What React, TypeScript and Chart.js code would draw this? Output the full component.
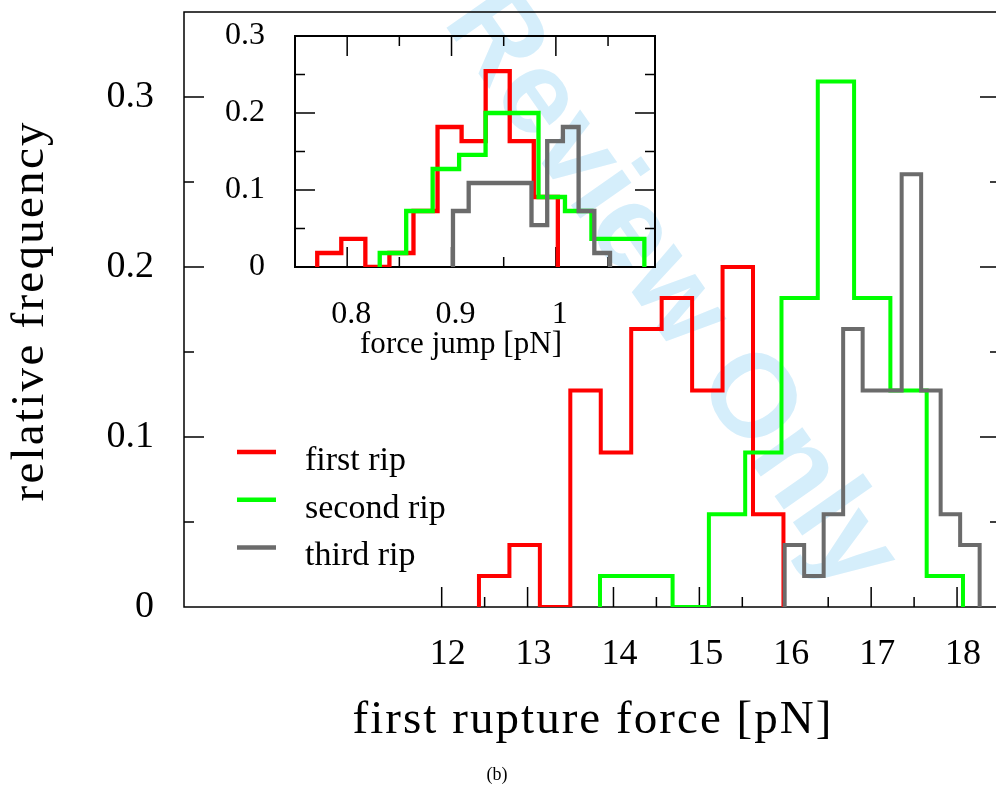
import React, { useEffect, useRef } from 'react';
import { Chart, registerables } from 'chart.js';

Chart.register(...registerables);

const SERIF = "'Liberation Serif', 'Times New Roman', serif";

// ---------- main histogram (first rupture force) ----------
const firstRipStart = 12.434;
const firstRipWidth = 0.3545;
const firstRipFreq = [0.0182, 0.0364, 0, 0.1273, 0.0909, 0.1636, 0.1818, 0.1273, 0.2, 0.0545];

const secondRipStart = 13.843;
const secondRipWidth = 0.4226;
const secondRipFreq = [0.0182, 0.0182, 0, 0.0545, 0.0909, 0.1818, 0.3091, 0.1818, 0.1273, 0.0182];

const thirdRipStart = 15.993;
const thirdRipWidth = 0.227;
const thirdRipFreq = [0.0364, 0.0182, 0.0545, 0.1636, 0.1273, 0.1273, 0.2545, 0.1273, 0.0545, 0.0364];

const mainXTicks = [12, 13, 14, 15, 16, 17, 18];
const mainXTickLabels = ['12', '13', '14', '15', '16', '17', '18'];
const mainXMinor = [12.5, 13.5, 14.5, 15.5, 16.5, 17.5];
const mainYTicks = [0, 0.1, 0.2, 0.3];
const mainYTickLabels = ['0', '0.1', '0.2', '0.3'];
const mainYMinor = [0.05, 0.15, 0.25];

// ---------- inset histogram (force jump) ----------
const firstJumpStart = 0.7713;
const firstJumpWidth = 0.02306;
const firstJumpFreq = [0.0182, 0.0364, 0, 0.0182, 0.0727, 0.1818, 0.1636, 0.2545, 0.1636, 0.0909];

const secondJumpStart = 0.8312;
const secondJumpWidth = 0.02536;
const secondJumpFreq = [0.0182, 0.0727, 0.1273, 0.1455, 0.2, 0.2, 0.0909, 0.0727, 0.0364, 0.0364];

const thirdJumpStart = 0.9014;
const thirdJumpWidth = 0.01505;
const thirdJumpFreq = [0.0727, 0.1091, 0.1091, 0.1091, 0.1091, 0.0545, 0.1636, 0.1818, 0.0727, 0.0182];

const insetXTicks = [0.8, 0.9, 1.0];
const insetXTickLabels = ['0.8', '0.9', '1'];
const insetXMinor = [0.85, 0.95, 1.05];
const insetYTicks = [0, 0.1, 0.2, 0.3];
const insetYTickLabels = ['0', '0.1', '0.2', '0.3'];
const insetYMinor = [0.05, 0.15, 0.25];

const seriesNames = ['first rip', 'second rip', 'third rip'];
const seriesColors = ['#ff0000', '#00ff00', '#6b6b6b'];

function histPoints(start: number, width: number, freq: number[]) {
  const pts: { x: number; y: number }[] = [{ x: start, y: 0 }];
  freq.forEach((f, i) => {
    pts.push({ x: start + i * width, y: f });
    pts.push({ x: start + (i + 1) * width, y: f });
  });
  pts.push({ x: start + freq.length * width, y: 0 });
  return pts;
}

function drawSpaced(ctx: CanvasRenderingContext2D, text: string, cx: number, y: number, target: number) {
  const c: any = ctx;
  c.letterSpacing = '0px';
  const w0 = ctx.measureText(text).width;
  const sp = Math.max(0, (target - w0) / (text.length - 1));
  c.letterSpacing = sp + 'px';
  ctx.textAlign = 'left';
  const total = w0 + sp * (text.length - 1);
  ctx.fillText(text, cx - total / 2, y);
  c.letterSpacing = '0px';
}

function framePlugin(o: {
  frameWidth: number;
  xMajor: number[];
  xMinor: number[];
  yMajor: number[];
  yMinor: number[];
  topTicks: boolean;
  watermark?: boolean;
}) {
  return {
    id: 'frameTicks',
    beforeDatasetsDraw(chart: any) {
      const { ctx, chartArea, scales } = chart;
      const { left, right, top, bottom } = chartArea;
      ctx.save();
      if (o.watermark) {
        ctx.save();
        ctx.translate(670, 290);
        ctx.rotate((55 * Math.PI) / 180);
        ctx.font = "bold 118px 'Liberation Sans', Arial, sans-serif";
        ctx.fillStyle = '#d5eefb';
        ctx.textAlign = 'center';
        ctx.textBaseline = 'middle';
        ctx.fillText('Review Only', 0, 0);
        ctx.restore();
      }
      ctx.strokeStyle = '#000';
      ctx.lineWidth = o.frameWidth;
      ctx.strokeRect(left, top, right - left, bottom - top);
      ctx.lineWidth = 1.5;
      ctx.beginPath();
      const xs = (vals: number[], len: number) =>
        vals.forEach((v) => {
          const p = scales.x.getPixelForValue(v);
          ctx.moveTo(p, bottom);
          ctx.lineTo(p, bottom - len);
          if (o.topTicks) {
            ctx.moveTo(p, top);
            ctx.lineTo(p, top + len);
          }
        });
      const ys = (vals: number[], len: number) =>
        vals.forEach((v) => {
          const p = scales.y.getPixelForValue(v);
          ctx.moveTo(left, p);
          ctx.lineTo(left + len, p);
          ctx.moveTo(right, p);
          ctx.lineTo(right - len, p);
        });
      xs(o.xMajor, 20);
      xs(o.xMinor, 10);
      ys(o.yMajor, 20);
      ys(o.yMinor, 10);
      ctx.stroke();
      ctx.restore();
    },
  };
}

const mainTextPlugin = {
  id: 'mainText',
  afterDraw(chart: any) {
    const { ctx, chartArea } = chart;
    ctx.save();
    ctx.fillStyle = '#000';
    ctx.textBaseline = 'alphabetic';
    // x title
    ctx.font = `47px ${SERIF}`;
    drawSpaced(ctx, 'first rupture force [pN]', (chartArea.left + chartArea.right) / 2, 733, 479);
    // y title
    ctx.save();
    ctx.translate(43, 312);
    ctx.rotate(-Math.PI / 2);
    drawSpaced(ctx, 'relative frequency', 0, 0, 379);
    ctx.restore();
    // legend
    ctx.font = `34px ${SERIF}`;
    ctx.textAlign = 'left';
    seriesNames.forEach((name, i) => {
      const ly = 452 + i * 47.7;
      ctx.strokeStyle = seriesColors[i];
      ctx.lineWidth = 4.5;
      ctx.beginPath();
      ctx.moveTo(237, ly);
      ctx.lineTo(276, ly);
      ctx.stroke();
      ctx.fillText(name, 305, ly + 18);
    });
    // sub-figure tag
    ctx.font = `18px ${SERIF}`;
    ctx.textAlign = 'center';
    ctx.fillText('(b)', 497, 780);
    ctx.restore();
  },
};

const insetTextPlugin = {
  id: 'insetText',
  afterDraw(chart: any) {
    const { ctx } = chart;
    ctx.save();
    ctx.fillStyle = '#000';
    ctx.textBaseline = 'alphabetic';
    ctx.font = `31px ${SERIF}`;
    drawSpaced(ctx, 'force jump [pN]', 261, 343, 202);
    ctx.restore();
  },
};

function makeDatasets(starts: number[], widths: number[], freqs: number[][], lw: number) {
  return freqs.map((f, i) => ({
    label: seriesNames[i],
    data: histPoints(starts[i], widths[i], f),
    borderColor: seriesColors[i],
    backgroundColor: seriesColors[i],
    borderWidth: lw,
    pointRadius: 0,
    fill: false,
    tension: 0,
    borderJoinStyle: 'miter' as const,
    order: 3 - i,
  }));
}

const noPadX = (h: number) => (s: any) => {
  s.height = h;
  s.paddingLeft = 0;
  s.paddingRight = 0;
  s.paddingTop = 0;
  s.paddingBottom = 0;
};
const noPadY = (w: number) => (s: any) => {
  s.width = w;
  s.paddingLeft = 0;
  s.paddingRight = 0;
  s.paddingTop = 0;
  s.paddingBottom = 0;
};

export default function App() {
  const mainRef = useRef<HTMLCanvasElement>(null);
  const insetRef = useRef<HTMLCanvasElement>(null);

  useEffect(() => {
    const main = new Chart(mainRef.current as HTMLCanvasElement, {
      type: 'line',
      data: {
        datasets: makeDatasets(
          [firstRipStart, secondRipStart, thirdRipStart],
          [firstRipWidth, secondRipWidth, thirdRipWidth],
          [firstRipFreq, secondRipFreq, thirdRipFreq],
          4
        ) as any,
      },
      options: {
        responsive: false,
        devicePixelRatio: 1,
        animation: false,
        events: [],
        layout: { padding: { top: 12, right: 4, left: 0, bottom: 0 } },
        plugins: { legend: { display: false }, tooltip: { enabled: false } },
        scales: {
          x: {
            type: 'linear',
            min: 9,
            max: 18.5,
            grid: { display: false, drawTicks: false },
            border: { display: false },
            ticks: {
              autoSkip: false,
              maxRotation: 0,
              padding: 26,
              labelOffset: 6,
              color: '#000',
              font: { family: SERIF, size: 36 },
              callback: (_v: any, i: number) => mainXTickLabels[i],
            },
            afterBuildTicks: (s: any) => {
              s.ticks = mainXTicks.map((v) => ({ value: v }));
            },
            afterFit: noPadX(180),
          },
          y: {
            type: 'linear',
            min: 0,
            max: 0.35,
            grid: { display: false, drawTicks: false },
            border: { display: false },
            ticks: {
              autoSkip: false,
              padding: 30,
              color: '#000',
              font: { family: SERIF, size: 38 },
              callback: (_v: any, i: number) => mainYTickLabels[i],
            },
            afterBuildTicks: (s: any) => {
              s.ticks = mainYTicks.map((v) => ({ value: v }));
            },
            afterFit: noPadY(184),
          },
        },
      },
      plugins: [
        framePlugin({
          frameWidth: 1.5,
          xMajor: mainXTicks,
          xMinor: mainXMinor,
          yMajor: mainYTicks.slice(1),
          yMinor: mainYMinor,
          topTicks: false,
          watermark: true,
        }),
        mainTextPlugin,
      ],
    });

    const inset = new Chart(insetRef.current as HTMLCanvasElement, {
      type: 'line',
      data: {
        datasets: makeDatasets(
          [firstJumpStart, secondJumpStart, thirdJumpStart],
          [firstJumpWidth, secondJumpWidth, thirdJumpWidth],
          [firstJumpFreq, secondJumpFreq, thirdJumpFreq],
          4.3
        ) as any,
      },
      options: {
        responsive: false,
        devicePixelRatio: 1,
        animation: false,
        events: [],
        layout: { padding: { top: 26, right: 15, left: 0, bottom: 0 } },
        plugins: { legend: { display: false }, tooltip: { enabled: false } },
        scales: {
          x: {
            type: 'linear',
            min: 0.75,
            max: 1.095,
            grid: { display: false, drawTicks: false },
            border: { display: false },
            ticks: {
              autoSkip: false,
              maxRotation: 0,
              padding: 28,
              labelOffset: 4,
              color: '#000',
              font: { family: SERIF, size: 32 },
              callback: (_v: any, i: number) => insetXTickLabels[i],
            },
            afterBuildTicks: (s: any) => {
              s.ticks = insetXTicks.map((v) => ({ value: v }));
            },
            afterFit: noPadX(113),
          },
          y: {
            type: 'linear',
            min: 0,
            max: 0.3,
            grid: { display: false, drawTicks: false },
            border: { display: false },
            ticks: {
              autoSkip: false,
              padding: 30,
              color: '#000',
              font: { family: SERIF, size: 32 },
              callback: (_v: any, i: number) => insetYTickLabels[i],
            },
            afterBuildTicks: (s: any) => {
              s.ticks = insetYTicks.map((v) => ({ value: v }));
            },
            afterFit: noPadY(95),
          },
        },
      },
      plugins: [
        framePlugin({
          frameWidth: 2,
          xMajor: insetXTicks,
          xMinor: insetXMinor,
          yMajor: insetYTicks.slice(1, 3),
          yMinor: insetYMinor,
          topTicks: true,
        }),
        insetTextPlugin,
      ],
    });

    return () => {
      main.destroy();
      inset.destroy();
    };
  }, []);

  return (
    <div
      style={{
        position: 'absolute',
        left: 0,
        top: 0,
        width: 996,
        height: 787,
        overflow: 'hidden',
        background: '#ffffff',
      }}
    >
      <canvas
        ref={mainRef}
        width={1004}
        height={787}
        style={{ position: 'absolute', left: 0, top: 0, width: 1004, height: 787, display: 'block' }}
      />
      <canvas
        ref={insetRef}
        width={470}
        height={370}
        style={{ position: 'absolute', left: 200, top: 10, width: 470, height: 370, display: 'block' }}
      />
    </div>
  );
}
